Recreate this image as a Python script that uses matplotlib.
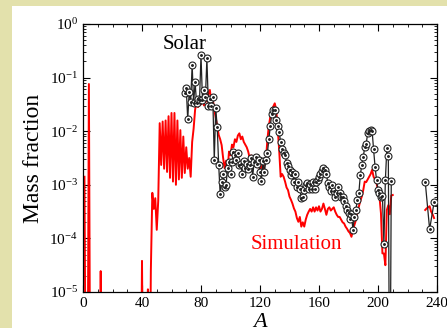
import numpy as np
import matplotlib
matplotlib.use("Agg")
import matplotlib.pyplot as plt
from matplotlib.patches import Rectangle
from matplotlib.ticker import MultipleLocator

# Simulation: log10 mass fraction for A = 1..210 (-8 means below the plot)
sim_A = list(range(1, 211))
sim_logX = [
    -2.85, -8, -8, -1.12, -8, -8, -8, -8, -8, -8,            # 1-10
    -8, -4.61, -8, -8, -8, -8, -8, -8, -8, -8,               # 11-20
    -8, -8, -8, -8, -8, -8, -8, -8, -8, -8,                  # 21-30
    -8, -8, -8, -8, -8, -8, -8, -8, -8, -4.42,               # 31-40
    -8, -8, -8, -4.95, -8, -4.60, -3.15, -3.45, -3.25, -3.84,  # 41-50
    -3.30, -1.85, -2.63, -1.82, -2.70, -1.80, -2.76, -1.72, -2.87, -1.66,  # 51-60
    -2.94, -1.66, -3.00, -1.80, -2.90, -1.98, -2.87, -2.10, -2.78, -2.30,  # 61-70
    -2.70, -2.50, -2.85, -2.20, -1.95, -1.60, -1.45, -1.55, -1.40, -1.50,  # 71-80
    -1.38, -1.52, -1.36, -1.45, -1.30, -1.23, -1.45, -1.40, -1.60, -1.75,  # 81-90
    -1.90, -2.07, -2.15, -2.26, -2.50, -2.69, -2.55, -2.72, -2.38, -2.45,  # 91-100
    -2.25, -2.30, -2.15, -2.20, -2.08, -2.04, -2.15, -2.10, -2.20, -2.25,  # 101-110
    -2.30, -2.38, -2.50, -2.45, -2.66, -2.55, -2.50, -2.66, -2.60, -2.72,  # 111-120
    -2.65, -2.70, -2.60, -2.55, -2.16, -1.90, -1.73, -1.60, -1.54, -1.48,  # 121-130
    -1.60, -1.95, -2.35, -2.85, -2.80, -2.85, -2.94, -3.05, -3.10, -3.22,  # 131-140
    -3.28, -3.35, -3.44, -3.50, -3.62, -3.69, -3.60, -3.78, -3.70, -3.78,  # 141-150
    -3.65, -3.56, -3.50, -3.45, -3.50, -3.42, -3.50, -3.42, -3.48, -3.40,  # 151-160
    -3.50, -3.45, -3.35, -3.45, -3.56, -3.45, -3.42, -3.48, -3.45, -3.42,  # 161-170
    -3.50, -3.56, -3.60, -3.60, -3.65, -3.70, -3.72, -3.78, -3.82, -3.87,  # 171-180
    -3.90, -3.97, -3.85, -3.75, -3.66, -3.50, -3.41, -3.30, -3.22, -3.10,  # 181-190
    -2.94, -2.95, -2.90, -2.85, -2.80, -2.72, -2.85, -2.90, -2.97, -3.10,  # 191-200
    -3.22, -3.53, -4.28, -4.28, -4.50, -3.47, -3.38, -3.55, -3.20, -3.19,  # 201-210
]
sim_act_A = [232, 233, 234, 235, 236, 237, 238]
sim_act_logX = [-3.47, -3.44, -3.42, -3.40, -3.50, -3.55, -3.62]

# Solar r-process: log10 mass fraction for A = 69..209
solar_A = list(range(69, 210))
solar_logX = [
    -1.29, -1.20, -1.78, -1.26, -1.45, -0.76, -1.48, -1.09, -1.48, -1.39,  # 69-78
    -1.42, -0.58, -1.42, -1.23, -1.37, -0.64, -1.53, -1.39, -1.53, -1.37,  # 79-88
    -2.54, -1.57, -1.93, -2.63, -3.18, -2.94, -2.80, -3.05, -3.00, -2.69,  # 89-98
    -2.57, -2.80, -2.57, -2.38, -2.45, -2.54, -2.40, -2.63, -2.62, -2.80,  # 99-108
    -2.55, -2.68, -2.62, -2.70, -2.63, -2.50, -2.85, -2.58, -2.48, -2.62,  # 109-118
    -2.54, -2.76, -2.93, -2.55, -2.76, -2.54, -2.41, -2.15, -1.90, -1.67,  # 119-128
    -1.60, -1.60, -1.80, -1.90, -2.01, -2.21, -2.33, -2.41, -2.44, -2.59,  # 129-138
    -2.65, -2.72, -2.82, -2.77, -2.94, -2.80, -3.04, -2.95, -3.07, -3.25,  # 139-148
    -3.22, -3.10, -3.00, -2.97, -3.07, -2.98, -3.07, -2.95, -3.07, -2.94,  # 149-158
    -2.91, -2.85, -2.80, -2.74, -2.69, -2.73, -2.80, -2.97, -3.05, -3.11,  # 159-168
    -3.00, -3.11, -3.22, -3.15, -3.05, -3.15, -3.22, -3.22, -3.31, -3.40,  # 169-178
    -3.47, -3.53, -3.64, -3.55, -3.84, -3.60, -3.47, -3.28, -3.16, -2.82,  # 179-188
    -2.63, -2.48, -2.30, -2.23, -2.04, -2.00, -1.98, -1.99, -2.34, -2.66,  # 189-198
    -2.91, -3.10, -3.16, -3.22, -3.20, -4.10, -2.91, -2.32, -2.46, -8,     # 199-208
    -2.92,                                                                 # 209
]
solar_act_A = [232, 235, 238]
solar_act_logX = [-2.94, -3.83, -3.33]

plt.rcParams['font.family'] = ['Liberation Serif', 'DejaVu Serif']
plt.rcParams['mathtext.fontset'] = 'stix'

fig = plt.figure(figsize=(4.47, 3.28), dpi=100, facecolor='#e3e1ac')
fig.patches.append(Rectangle((12 / 447, 0), 1, 322 / 328, transform=fig.transFigure,
                             facecolor='white', edgecolor='none', zorder=-10))
ax = fig.add_axes([83 / 447, 36 / 328, 354 / 447, 268 / 328])
ax.set_facecolor('none')

red_kw = dict(color='red', lw=1.4, zorder=2)
ax.plot(sim_A, 10 ** np.array(sim_logX), **red_kw)
ax.plot(sim_act_A, 10 ** np.array(sim_act_logX), **red_kw)

sol_kw = dict(color='#222222', lw=0.9, marker='o', ms=5, mfc='white', mec='#222222',
              mew=0.8, zorder=3)
dot_kw = dict(ls='none', marker='o', ms=1.1, color='#222222', zorder=4)
for xa, ya in [(solar_A, solar_logX), (solar_act_A, solar_act_logX)]:
    yv = 10 ** np.array(ya)
    ax.plot(xa, yv, **sol_kw)
    ax.plot(xa, yv, **dot_kw)

ax.set_yscale('log')
ax.set_xlim(0, 240)
ax.set_ylim(1e-5, 1)
ax.xaxis.set_major_locator(MultipleLocator(40))
ax.xaxis.set_minor_locator(MultipleLocator(10))
ax.tick_params(which='both', direction='in', top=True, right=True, labelsize=11)
ax.tick_params(which='major', length=5, width=0.8)
ax.tick_params(which='minor', length=2.5, width=0.6)
for s in ax.spines.values():
    s.set_linewidth(0.9)

ax.text(68.7, 10 ** -0.39, 'Solar', fontsize=15, ha='center', va='center')
ax.text(144.4, 10 ** -4.12, 'Simulation', fontsize=15, color='red', ha='center', va='center')

ax.set_ylabel('Mass fraction', fontsize=17, labelpad=4)
ax.set_xlabel('A', fontsize=16, style='italic', labelpad=2)

fig.savefig('out.png', dpi=100, facecolor=fig.get_facecolor())
